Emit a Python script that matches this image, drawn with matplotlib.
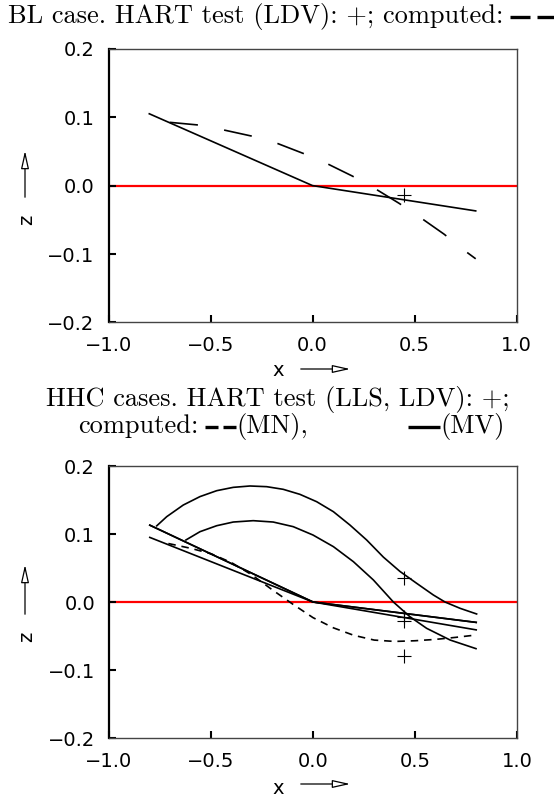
import matplotlib.pyplot as plt
from matplotlib.patches import FancyArrowPatch
from matplotlib.lines import Line2D
from matplotlib.ticker import FuncFormatter

# BL case
bl_mv_x = [-0.8, 0.0, 0.8]
bl_mv_z = [0.105, 0.0, -0.037]
bl_mn_x = [-0.70, -0.56, -0.43, -0.30, -0.175, -0.045, 0.075, 0.195, 0.31, 0.425, 0.535, 0.645, 0.75, 0.80]
bl_mn_z = [0.0925, 0.0886, 0.081, 0.0725, 0.062, 0.047, 0.0316, 0.014, -0.005, -0.026, -0.048, -0.071, -0.096, -0.107]
bl_test_x = [0.45]
bl_test_z = [-0.014]

# HHC cases
hhc_line_x = [-0.8, 0.0, 0.8]
hhc_line1_z = [0.113, 0.0, -0.041]
hhc_line2_z = [0.113, 0.0, -0.030]
hhc_line3_z = [0.095, 0.0, -0.030]
hhc_a_x = [-0.766, -0.717, -0.636, -0.554, -0.472, -0.391, -0.309, -0.227, -0.146, -0.064, 0.018,
           0.10, 0.181, 0.263, 0.345, 0.426, 0.508, 0.590, 0.647, 0.721, 0.802]
hhc_a_z = [0.112, 0.1255, 0.1426, 0.155, 0.1637, 0.1686, 0.1706, 0.1696, 0.1657, 0.1583, 0.1475,
           0.1328, 0.1132, 0.0912, 0.066, 0.045, 0.0275, 0.0103, 0.0, -0.0093, -0.0176]
hhc_b_x = [-0.623, -0.554, -0.472, -0.391, -0.293, -0.195, -0.097, 0.0, 0.10, 0.198, 0.296,
           0.394, 0.475, 0.557, 0.672, 0.799]
hhc_b_z = [0.0912, 0.1034, 0.1122, 0.1176, 0.1196, 0.1176, 0.1108, 0.0985, 0.0814, 0.0593, 0.0324,
           0.0, -0.0216, -0.0387, -0.0559, -0.0686]
hhc_mn_x = [-0.709, -0.6, -0.5, -0.4, -0.3, -0.2, -0.1, 0.0, 0.1, 0.2, 0.3, 0.4, 0.5, 0.6, 0.7, 0.8]
hhc_mn_z = [0.086, 0.079, 0.071, 0.058, 0.040, 0.018, -0.003, -0.023, -0.038, -0.049, -0.056, -0.058, -0.057, -0.055, -0.052, -0.0485]
hhc_test_x = [0.446, 0.446, 0.446, 0.446]
hhc_test_z = [0.035, -0.022, -0.028, -0.080]

x_ticks = [-1.0, -0.5, 0.0, 0.5, 1.0]
z_ticks = [-0.2, -0.1, 0.0, 0.1, 0.2]

W, H = 554, 796
fig = plt.figure(figsize=(W / 100, H / 100), dpi=100)
renderer = fig.canvas.get_renderer()

serif = ['cmr10', 'DejaVu Serif']
title_size = 19


def px(x, y):
    return x / W, 1 - y / H


def fmt(v, pos):
    return f'{v:.1f}'.replace('-', '\u2212')


def style_axes(ax):
    ax.set_xlim(-1.0, 1.0)
    ax.set_ylim(-0.2, 0.2)
    ax.set_xticks(x_ticks)
    ax.set_yticks(z_ticks)
    ax.xaxis.set_major_formatter(FuncFormatter(fmt))
    ax.yaxis.set_major_formatter(FuncFormatter(fmt))
    ax.tick_params(direction='in', length=5, width=1.5, labelsize=14, pad=10,
                   top=False, right=False)
    for s in ax.spines.values():
        s.set_linewidth(1.0)
        s.set_color('#444444')
    ax.spines['left'].set_linewidth(1.6)
    ax.spines['left'].set_color('black')
    ax.axhline(0.0, color='red', lw=1.6, zorder=1)


def dash(x0, x1, y):
    fig.lines.append(Line2D([x0 / W, x1 / W], [1 - y / H] * 2, color='black', lw=2.4,
                            solid_capstyle='butt', transform=fig.transFigure))


def title_line(x, y, parts):
    # parts: strings are drawn as text, numbers as a gap, (len,) tuples as a bold dash
    for p in parts:
        if isinstance(p, str):
            t = fig.text(*px(x, y), p, ha='left', va='baseline', family=serif,
                         fontsize=title_size)
            x += t.get_window_extent(renderer).width
        elif isinstance(p, tuple):
            dash(x, x + p[0], y - 6)
            x += p[0]
        else:
            x += p


def axis_arrows(xlab_y, arrow_y, zlab_y, zarrow_top, zarrow_bot):
    head = '-|>,head_length=0.9,head_width=0.2'
    fig.text(*px(278, xlab_y), 'x', ha='center', va='center', fontsize=14)
    fig.patches.append(FancyArrowPatch(px(298, arrow_y), px(353, arrow_y),
                                       transform=fig.transFigure, arrowstyle=head,
                                       mutation_scale=12, lw=0.9,
                                       facecolor='white', edgecolor='black'))
    fig.text(*px(27, zlab_y), 'z', ha='center', va='center', fontsize=14, rotation=90)
    fig.patches.append(FancyArrowPatch(px(25, zarrow_bot), px(25, zarrow_top),
                                       transform=fig.transFigure, arrowstyle=head,
                                       mutation_scale=12, lw=0.9,
                                       facecolor='white', edgecolor='black'))


# upper panel
ax1 = fig.add_axes([108.5 / W, 1 - 322.4 / H, 408 / W, 273.6 / H])
style_axes(ax1)
ax1.plot(bl_mv_x, bl_mv_z, color='black', lw=1.2)
ax1.plot(bl_mn_x, bl_mn_z, color='black', lw=1.2, linestyle=(0, (17, 16)))
ax1.plot(bl_test_x, bl_test_z, '+', color='black', ms=10, mew=0.8)

title_line(8, 23, ['BL case. HART test (LDV): +; computed:', 7, (20,), 7, (20,)])
axis_arrows(371, 369, 220, 148, 200)

# lower panel
ax2 = fig.add_axes([109 / W, 1 - 738 / H, 408 / W, 272 / H])
style_axes(ax2)
ax2.plot(hhc_line_x, hhc_line1_z, color='black', lw=1.2)
ax2.plot(hhc_line_x, hhc_line2_z, color='black', lw=1.2)
ax2.plot(hhc_line_x, hhc_line3_z, color='black', lw=1.2)
ax2.plot(hhc_a_x, hhc_a_z, color='black', lw=1.2)
ax2.plot(hhc_b_x, hhc_b_z, color='black', lw=1.2)
ax2.plot(hhc_mn_x, hhc_mn_z, color='black', lw=1.2, linestyle=(0, (4.5, 3.5)))
ax2.plot(hhc_test_x, hhc_test_z, '+', color='black', ms=10, mew=0.8)

title_line(46, 406, ['HHC cases. HART test (LLS, LDV): +;'])
title_line(78, 433, ['computed:', 7, (13,), 5, (13,), '(MN),', 100, (32,), '(MV)'])
axis_arrows(788, 784, 637, 562, 617)

fig.savefig('out.png', dpi=100)
